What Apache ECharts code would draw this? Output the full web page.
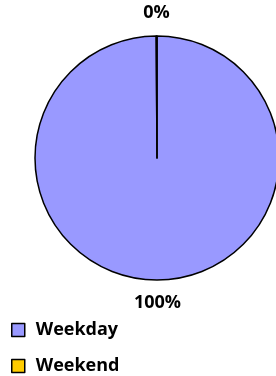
<!DOCTYPE html>
<html>
<head>
<meta charset="utf-8">
<script src="https://cdn.jsdelivr.net/npm/echarts@6/dist/echarts.min.js"></script>
<style>
  html, body { margin: 0; padding: 0; background: #fff; }
  #main { width: 276px; height: 376px; }
</style>
</head>
<body>
<div id="main"></div>
<script>
// data
const categories = ["Weekday", "Weekend"];
const shares = [99.9, 0.1];
const colors = ["#9999FF", "#FFCC00"];

const myChart = echarts.init(document.getElementById("main"));
myChart.setOption({
  animation: false,
  textStyle: {
    fontFamily: "Open Sans",
    fontWeight: "bold"
  },
  legend: {
    orient: "vertical",
    left: 11,
    top: 321,
    height: 80,
    padding: 0,
    itemWidth: 13,
    itemHeight: 13,
    itemGap: 18,
    icon: "rect",
    itemStyle: {
      borderColor: "#000",
      borderWidth: 1.5
    },
    textStyle: {
      fontSize: 18,
      lineHeight: 13,
      fontWeight: "bold",
      color: "#000",
      padding: [0, 0, 0, 6]
    },
    data: categories
  },
  series: [
    {
      type: "pie",
      center: [157, 158],
      radius: 122,
      startAngle: 90,
      clockwise: true,
      avoidLabelOverlap: false,
      itemStyle: {
        borderColor: "#000",
        borderWidth: 1.5
      },
      label: {
        show: true,
        position: "outside",
        distanceToLabelLine: 0,
        fontSize: 18,
        fontWeight: "bold",
        color: "#000",
        formatter: p => Math.round(p.value) + "%"
      },
      labelLine: {
        show: false,
        length: 23,
        length2: 0
      },
      labelLayout: {
        align: "center"
      },
      data: categories.map((c, i) => ({
        name: c,
        value: shares[i],
        itemStyle: { color: colors[i] }
      }))
    }
  ]
});
</script>
</body>
</html>
